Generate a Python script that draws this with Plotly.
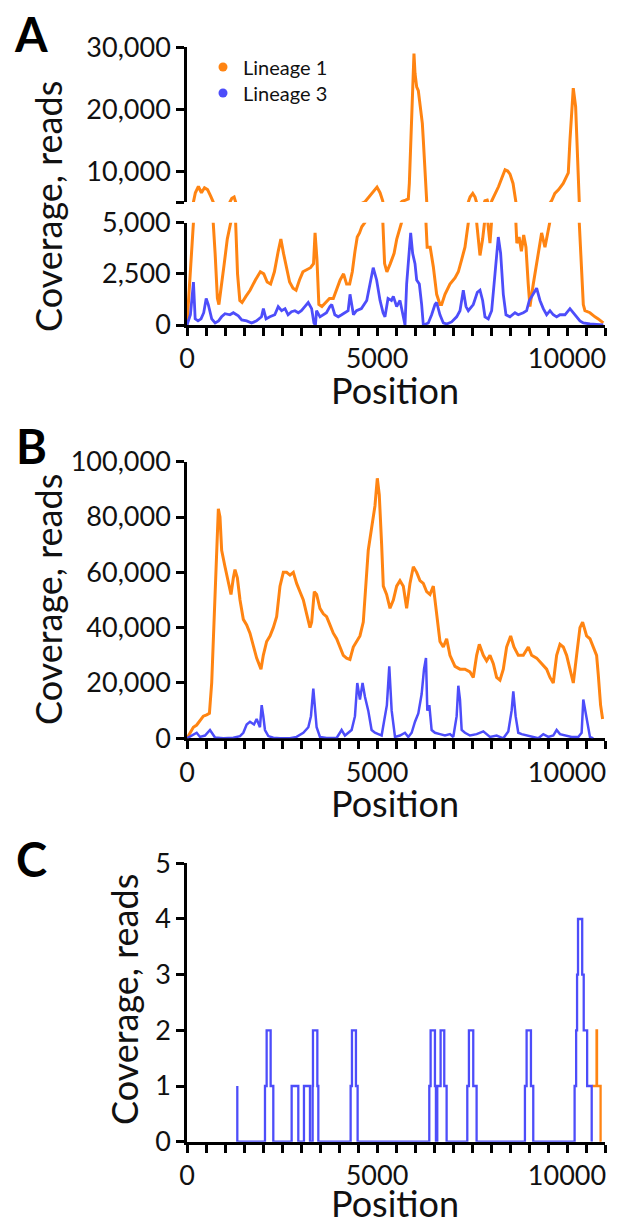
import plotly.graph_objects as go

# ---------------- DATA ----------------
# Panel A, Lineage 1 (orange)
A_L1_pos = [0, 90, 175, 220, 300, 380, 460, 540, 620, 690, 740, 800, 840, 900, 980, 1060, 1130, 1180,
            1240, 1280, 1330, 1390, 1450, 1550, 1660, 1800, 1930, 2020, 2110, 2200, 2300, 2400, 2470,
            2540, 2620, 2700, 2790, 2870, 2960, 3050, 3150, 3250, 3330, 3370, 3420, 3470, 3550, 3650,
            3750, 3850, 3950, 4030, 4120, 4200, 4280, 4350, 4420, 4480, 4540, 4600, 4680, 4760, 4850,
            4950, 5000, 5080, 5150, 5200, 5260, 5350, 5450, 5520, 5600, 5660, 5750, 5824, 5851, 5886,
            5921, 5956, 5973, 6000, 6044, 6087, 6131, 6193, 6219, 6263, 6289, 6320, 6400, 6482, 6570,
            6657, 6701, 6789, 6920, 7052, 7140, 7228, 7315, 7403, 7450, 7520, 7580, 7640, 7710, 7780,
            7841, 7900, 7973, 8020, 8100, 8200, 8280, 8370, 8440, 8500, 8580, 8640, 8680, 8740, 8800,
            8860, 8920, 8980, 9025, 9113, 9245, 9332, 9420, 9508, 9595, 9680, 9780, 9900, 9990, 10034,
            10078, 10122, 10165, 10227, 10271, 10323, 10380, 10429, 10472, 10604, 10736, 10823, 10955]
A_L1_cov = [0, 2500, 5000, 6500, 7500, 6500, 7300, 7000, 6000, 5000, 3500, 1300, 1000, 1800, 3000, 4200,
            5000, 5600, 5800, 5000, 2500, 1200, 1100, 1400, 1700, 2200, 2600, 2500, 2100, 2000, 2600,
            3600, 4200, 3500, 2700, 2100, 1800, 1700, 2200, 2600, 2700, 2800, 3000, 4500, 3200, 1000,
            900, 1100, 1300, 1300, 1800, 2200, 2500, 2000, 2000, 2600, 3600, 4300, 4500, 4800, 5000,
            5600, 6300, 7200, 7400, 6500, 5200, 3000, 2600, 3000, 3500, 4200, 4700, 5100, 5300, 5500,
            8000, 15000, 22000, 27000, 29000, 25800, 23600, 23000, 21000, 17700, 15000, 9700, 5000,
            3800, 3800, 2850, 1500, 1000, 1000, 1500, 2000, 2300, 2600, 3200, 3800, 5000, 5800, 6400,
            5800, 4500, 3400, 4200, 5200, 5300, 4000, 5200, 6200, 7500, 8800, 10200, 10000, 9500,
            8000, 5500, 4000, 4300, 3600, 4400, 3800, 2000, 900, 2000, 3500, 4500, 3800, 4500, 5200,
            6400, 7000, 8000, 9000, 9700, 15000, 20400, 23400, 20400, 13400, 5000, 2500, 1000, 700,
            600, 400, 300, 100]

# Panel A, Lineage 3 (blue)
A_L3_pos = [0, 90, 170, 215, 290, 370, 440, 505, 560, 650, 740, 830, 910, 1000, 1130, 1220, 1350, 1440,
            1570, 1700, 1830, 1960, 2010, 2080, 2180, 2310, 2400, 2490, 2580, 2660, 2750, 2840, 2930,
            3010, 3100, 3190, 3280, 3340, 3380, 3410, 3500, 3590, 3670, 3760, 3810, 3890, 3980, 4070,
            4150, 4240, 4290, 4380, 4460, 4590, 4730, 4830, 4900, 4990, 5080, 5160, 5210, 5290, 5380,
            5430, 5517, 5605, 5693, 5737, 5780, 5824, 5886, 5938, 6000, 6044, 6114, 6175, 6219, 6350,
            6438, 6526, 6570, 6657, 6745, 6833, 6964, 7096, 7184, 7271, 7342, 7403, 7534, 7640, 7710,
            7780, 7841, 7929, 8017, 8105, 8192, 8254, 8324, 8394, 8499, 8631, 8718, 8850, 8938, 9008,
            9113, 9201, 9289, 9376, 9464, 9552, 9639, 9727, 9815, 9946, 10078, 10166, 10253, 10341,
            10429, 10604, 10955]
A_L3_cov = [0, 500, 2100, 300, 200, 300, 600, 1300, 1000, 300, 100, 200, 400, 550, 500, 600, 450, 250,
            200, 100, 200, 400, 800, 300, 400, 500, 900, 700, 800, 500, 650, 700, 600, 700, 900, 1100,
            800, 100, 0, 700, 400, 500, 600, 900, 1000, 500, 400, 500, 600, 700, 1500, 500, 700, 800,
            1200, 2200, 2800, 2200, 1200, 600, 400, 1300, 1200, 1400, 900, 1200, 300, 0, 2000, 3000,
            4500, 3500, 3000, 2200, 2000, 1000, 0, 100, 500, 1000, 1100, 500, 100, 50, 150, 400, 700,
            1700, 900, 700, 1000, 1600, 1700, 1200, 400, 300, 700, 2500, 4300, 3500, 1500, 500, 400,
            600, 500, 600, 700, 1200, 1500, 1800, 1200, 800, 500, 700, 500, 400, 500, 500, 800, 600,
            400, 200, 100, 50, 0]

# Panel B, Lineage 1 (orange)
B_L1_pos = [0, 80, 167, 255, 342, 430, 517, 590, 650, 690, 737, 780, 825, 868, 912, 1000, 1087, 1158,
            1220, 1263, 1325, 1395, 1482, 1570, 1657, 1745, 1833, 1947, 2008, 2096, 2184, 2271, 2359,
            2447, 2535, 2622, 2710, 2798, 2885, 2973, 3061, 3148, 3236, 3280, 3350, 3411, 3499, 3587,
            3674, 3762, 3850, 3938, 4025, 4113, 4200, 4288, 4376, 4464, 4551, 4639, 4683, 4770, 4858,
            4946, 5008, 5060, 5122, 5166, 5253, 5342, 5430, 5517, 5605, 5693, 5780, 5868, 5956, 6044,
            6131, 6219, 6307, 6394, 6482, 6570, 6657, 6745, 6833, 6920, 7052, 7184, 7315, 7447, 7534,
            7622, 7692, 7798, 7885, 7973, 8061, 8148, 8236, 8324, 8411, 8517, 8604, 8718, 8850, 8982,
            9069, 9201, 9332, 9464, 9552, 9639, 9727, 9815, 9902, 9990, 10078, 10166, 10253, 10341,
            10411, 10516, 10604, 10692, 10779, 10823, 10884, 10937]
B_L1_cov = [0, 2000, 4000, 4800, 6500, 8000, 8500, 9000, 20000, 35000, 50000, 65000, 83000, 80000,
            68000, 62000, 56000, 52000, 58000, 61000, 58000, 50000, 43000, 41000, 38000, 33000, 29000,
            25000, 30000, 35000, 37000, 40000, 44000, 55000, 60000, 60000, 59000, 60000, 56000, 53000,
            50000, 45000, 40000, 42000, 53000, 52000, 47000, 45000, 44000, 41000, 38000, 36000, 33000,
            30000, 29000, 28500, 33000, 35000, 37000, 42000, 50000, 68000, 76000, 84000, 94000, 88000,
            70000, 55000, 52000, 47000, 50000, 55000, 57000, 55000, 47000, 56000, 62000, 60000, 57000,
            56000, 53000, 52000, 55000, 45000, 35000, 33000, 36000, 30000, 26000, 25000, 25000, 24000,
            22000, 30000, 34000, 30000, 28000, 30000, 27000, 22000, 21000, 25000, 33000, 37000, 33000,
            30000, 30000, 33000, 30000, 29000, 27000, 25000, 22000, 20000, 30000, 34000, 33000, 30000,
            25000, 20000, 30000, 40000, 42000, 37000, 36000, 33000, 30000, 23000, 12000, 7000]

# Panel B, Lineage 3 (blue)
B_L3_pos = [0, 123, 255, 342, 474, 605, 675, 737, 956, 1220, 1395, 1482, 1570, 1657, 1763, 1833, 1920,
            1965, 2008, 2052, 2140, 2271, 2447, 2710, 2885, 3061, 3193, 3262, 3324, 3368, 3411, 3499,
            3674, 3938, 4069, 4157, 4244, 4332, 4420, 4481, 4551, 4620, 4683, 4770, 4858, 4946, 5034,
            5122, 5184, 5260, 5323, 5386, 5474, 5605, 5736, 5824, 5912, 6000, 6087, 6175, 6237, 6289,
            6324, 6377, 6438, 6526, 6657, 6789, 6920, 7008, 7096, 7140, 7184, 7228, 7315, 7447, 7622,
            7798, 7973, 8148, 8324, 8455, 8543, 8587, 8648, 8718, 8806, 8938, 9113, 9245, 9376, 9508,
            9639, 9727, 9815, 9946, 10122, 10297, 10385, 10429, 10499, 10560, 10604, 10692]
B_L3_cov = [0, 1000, 2000, 500, 1000, 3000, 1500, 300, 0, 200, 800, 2000, 5000, 6000, 5000, 7000, 4000,
            12000, 8000, 3000, 800, 200, 0, 0, 500, 2000, 4000, 8000, 18000, 10000, 4000, 500, 100, 100,
            3000, 1000, 2000, 3000, 8000, 20000, 14000, 20000, 15000, 10000, 3000, 2000, 1500, 1000,
            6000, 12000, 26000, 10000, 500, 1000, 2000, 500, 2000, 6000, 9000, 16000, 25000, 29000,
            10000, 12000, 3000, 2000, 1500, 1000, 1500, 500, 8000, 19000, 14000, 3000, 2000, 1000, 1500,
            2500, 500, 1000, 0, 2500, 10000, 17000, 8000, 2000, 1500, 1000, 500, 0, 1500, 500, 1000,
            3000, 1500, 1000, 500, 500, 2000, 14000, 8000, 3000, 500, 0]

# Panel C (step coverage)
C_L3_pos = [1324, 1324, 2052, 2096, 2201, 2271, 2754, 2929, 3078, 3236, 3306, 3315, 3430, 3456,
            4306, 4341, 4446, 4490, 6376, 6411, 6525, 6551, 6586, 6674, 6770, 6832, 7376, 7419, 7533,
            7621, 8893, 8937, 9051, 9112, 10200, 10240, 10265, 10290, 10400, 10440, 10530, 10650]
C_L3_cov = [1, 0, 1, 2, 1, 0, 1, 0, 1, 0, 1, 2, 1, 0, 1, 2, 1, 0, 1, 2, 1, 0, 1, 2, 1, 0, 1, 2, 1, 0,
            1, 2, 1, 0, 1, 2, 3, 4, 3, 2, 1, 0]
C_L1_pos = [10665, 10778, 10790, 10884, 10890]
C_L1_cov = [1, 2, 1, 0, 0]

SERIES = ["Lineage 1", "Lineage 3"]
X_TICKS = [v for v in range(0, 11001, 500)]

# ---------------- STYLE ----------------
OFF = 8                     # page body margin
W, H = 618 - OFF, 1220 - OFF
ORANGE = "#FF8412"
BLUE = "#4D4DFA"
FONT = "Lato"


def fx(px):
    return (px - OFF) / W


def fy(py):
    return 1 - (py - OFF) / H


X_DOM = [fx(187), fx(605)]
xt_text = [str(v) if v % 5000 == 0 else "" for v in X_TICKS]

axis_common = dict(showline=True, linecolor="black", linewidth=2.6, ticks="outside",
                   ticklen=8, tickwidth=2.6, tickcolor="black", showgrid=False, zeroline=False,
                   tickfont=dict(family=FONT, size=27, color="#111"), layer="below traces",
                   automargin=False)

fig = go.Figure()

line_kw = dict(mode="lines", showlegend=False, hoverinfo="skip")
# Panel A upper and lower
for ax in ["", "2"]:
    fig.add_trace(go.Scatter(x=A_L1_pos, y=A_L1_cov, line=dict(color=ORANGE, width=3),
                             xaxis="x" + ax, yaxis="y" + ax, **line_kw))
fig.add_trace(go.Scatter(x=A_L3_pos, y=A_L3_cov, line=dict(color=BLUE, width=2.8),
                         xaxis="x2", yaxis="y2", **line_kw))
# Panel B
fig.add_trace(go.Scatter(x=B_L1_pos, y=B_L1_cov, line=dict(color=ORANGE, width=3),
                         xaxis="x3", yaxis="y3", **line_kw))
fig.add_trace(go.Scatter(x=B_L3_pos, y=B_L3_cov, line=dict(color=BLUE, width=2.5),
                         xaxis="x3", yaxis="y3", **line_kw))
# Panel C
fig.add_trace(go.Scatter(x=C_L1_pos, y=C_L1_cov, line=dict(color=ORANGE, width=2.3, shape="hv"),
                         xaxis="x4", yaxis="y4", **line_kw))
fig.add_trace(go.Scatter(x=C_L3_pos, y=C_L3_cov, line=dict(color=BLUE, width=2.3, shape="hv"),
                         xaxis="x4", yaxis="y4", **line_kw))
# legend entries (one legend box per entry for exact placement)
for name, col, lg in zip(SERIES, [ORANGE, BLUE], ["legend", "legend2"]):
    fig.add_trace(go.Scatter(x=[None], y=[None], mode="markers", name=name, legend=lg,
                             marker=dict(color=col, size=9), xaxis="x", yaxis="y"))

leg_common = dict(xanchor="left", yanchor="middle", bgcolor="rgba(0,0,0,0)",
                  font=dict(family=FONT, size=20, color="#111"), itemwidth=30)

layout = dict(
    width=W, height=H, autosize=False, margin=dict(l=0, r=0, t=0, b=0, autoexpand=False),
    paper_bgcolor="white", plot_bgcolor="white",
    font=dict(family=FONT, color="#111"),
    legend=dict(x=fx(203), y=fy(67), **leg_common),
    legend2=dict(x=fx(203), y=fy(93), **leg_common),
    xaxis=dict(domain=X_DOM, anchor="y", range=[0, 11000], visible=False),
    yaxis=dict(domain=[fy(202), fy(47.3)], anchor="x", range=[5000, 30000],
               tickvals=[5000, 10000, 20000, 30000], ticktext=["", "10,000", "20,000", "30,000"],
               **axis_common),
    xaxis2=dict(domain=X_DOM, anchor="y2", range=[0, 11000], tickvals=X_TICKS, ticktext=xt_text,
                **axis_common),
    yaxis2=dict(domain=[fy(325), fy(222.7)], anchor="x2", range=[0, 5000],
                tickvals=[0, 2500, 5000], ticktext=["0", "2,500", "5,000"], **axis_common),
    xaxis3=dict(domain=X_DOM, anchor="y3", range=[0, 11000], tickvals=X_TICKS, ticktext=xt_text,
                **axis_common),
    yaxis3=dict(domain=[fy(738.3), fy(461.7)], anchor="x3", range=[0, 100000],
                tickvals=list(range(0, 100001, 20000)),
                ticktext=[f"{v:,}" for v in range(0, 100001, 20000)], **axis_common),
    xaxis4=dict(domain=X_DOM, anchor="y4", range=[0, 11000], tickvals=X_TICKS, ticktext=xt_text,
                **axis_common),
    yaxis4=dict(domain=[fy(1141.7), fy(863.3)], anchor="x4", range=[0, 5],
                tickvals=[0, 1, 2, 3, 4, 5], ticktext=["0", "1", "2", "3", "4", "5"], **axis_common),
)
fig.update_layout(**layout)

ann = []
for letter, y in [("A", 34), ("B", 446), ("C", 859)]:
    ann.append(dict(text=f"<b>{letter}</b>", x=fx(31), y=fy(y), xref="paper", yref="paper",
                    showarrow=False, font=dict(family=FONT, size=47, color="black"),
                    xanchor="center", yanchor="middle"))
for xc, yc in [(48, 207), (48, 600), (124, 1000)]:
    ann.append(dict(text="Coverage, reads", x=fx(xc), y=fy(yc), xref="paper", yref="paper",
                    showarrow=False, textangle=-90, font=dict(family=FONT, size=36, color="#111"),
                    xanchor="center", yanchor="middle"))
for yc in [390, 803, 1203]:
    ann.append(dict(text="Position", x=fx(395), y=fy(yc), xref="paper", yref="paper",
                    showarrow=False, font=dict(family=FONT, size=36, color="#111"),
                    xanchor="center", yanchor="middle"))
fig.update_layout(annotations=ann)

fig.write_html("out.html")
